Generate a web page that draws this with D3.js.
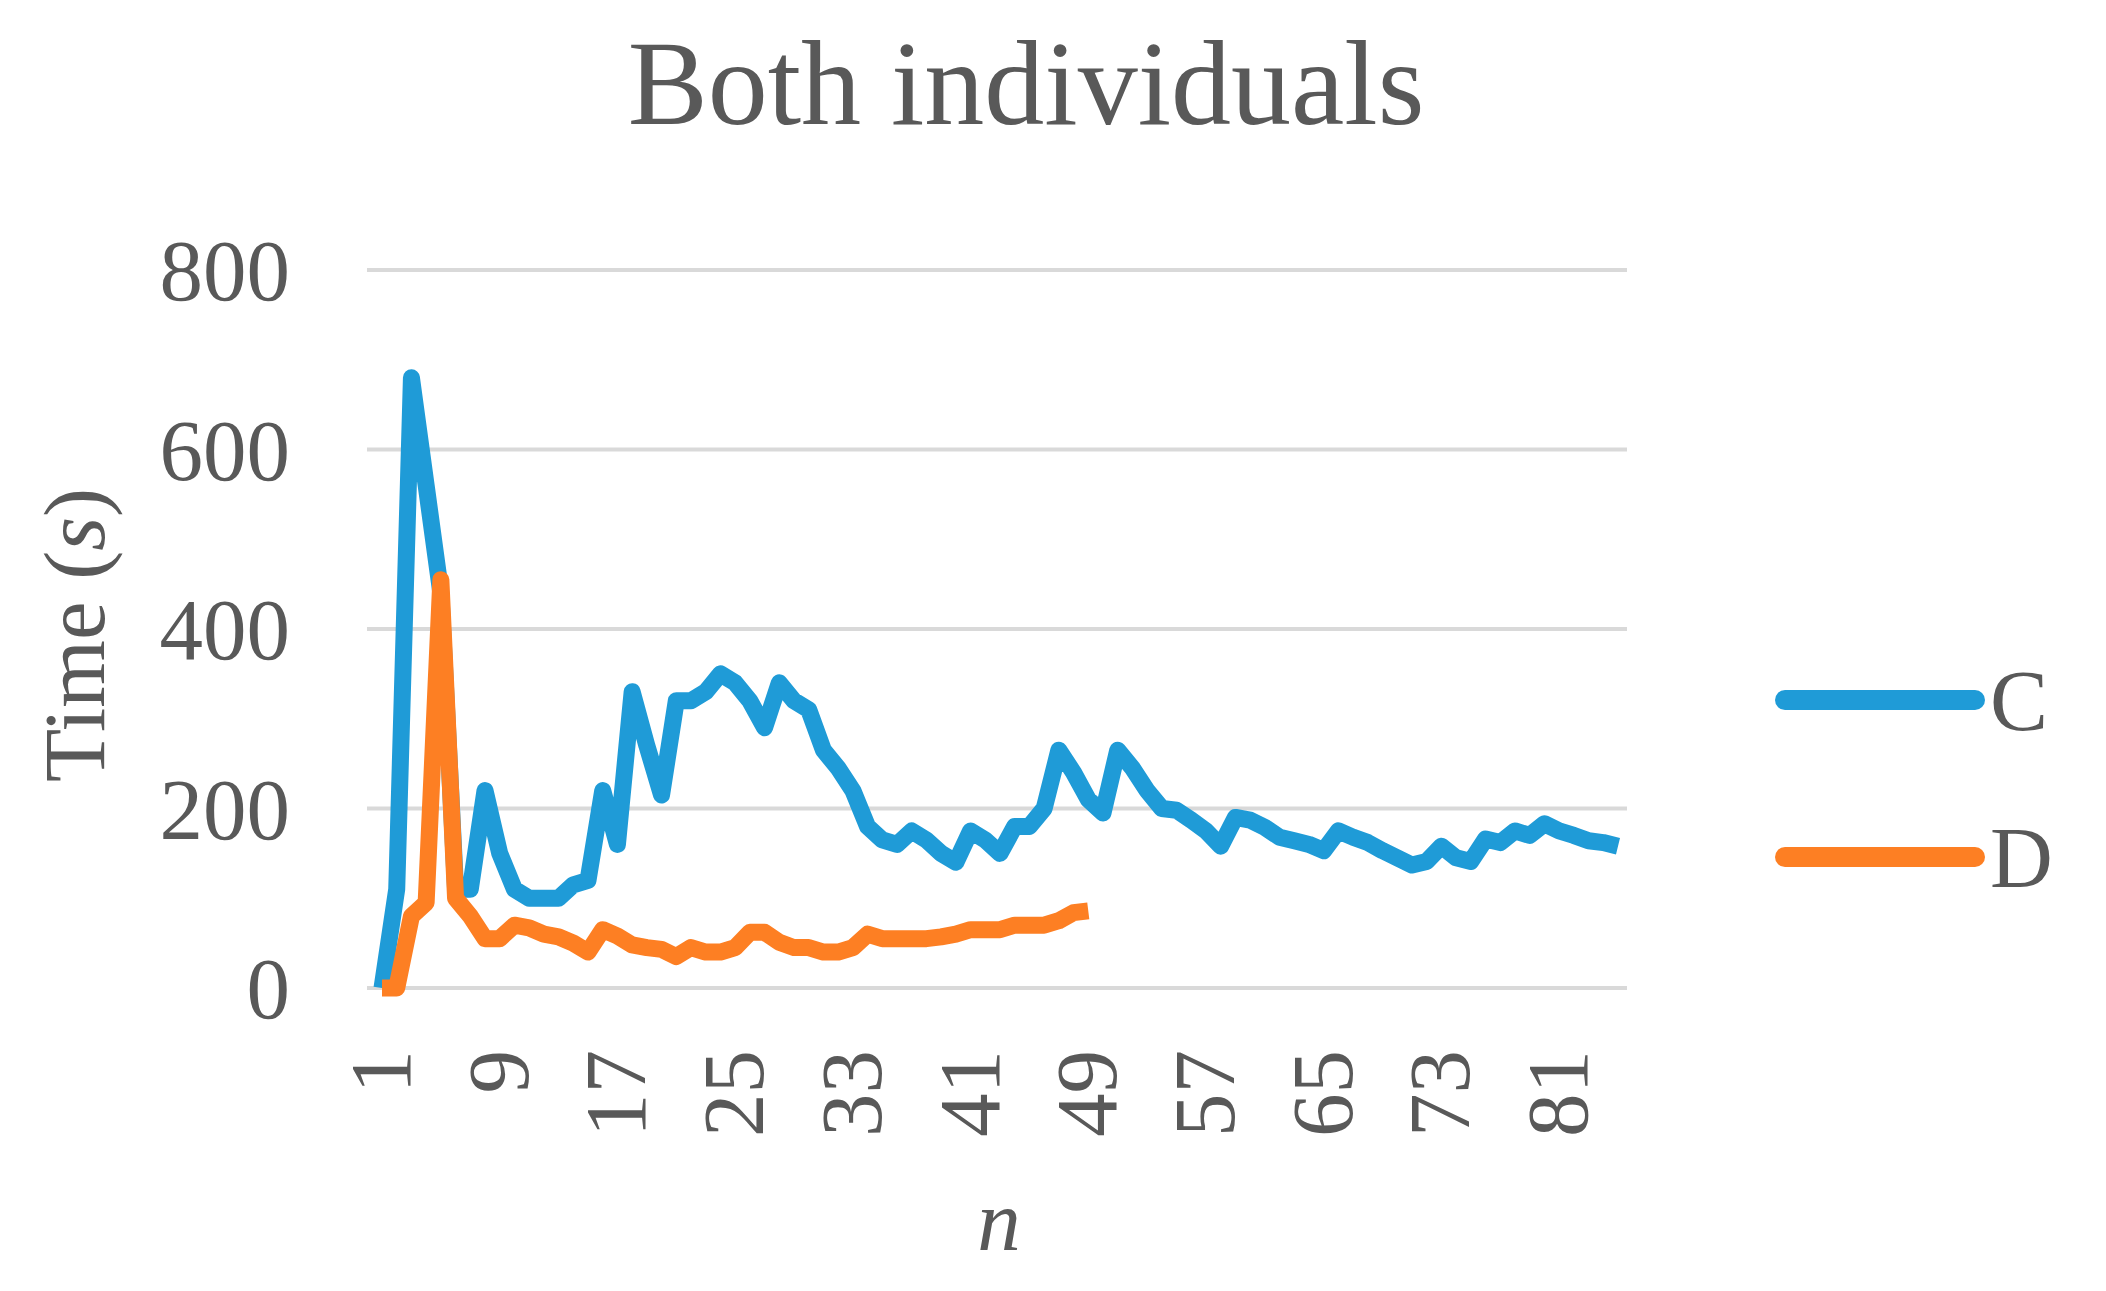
<!DOCTYPE html>
<html><head><meta charset="utf-8">
<script src="https://cdn.jsdelivr.net/npm/d3@7"></script>
<style>body{margin:0;background:#fff}</style>
</head><body><svg></svg>
<script>
var seriesC = [0,110,680,560,440,110,110,220,150,110,100,100,100,115,120,220,160,330,270,215,320,320,330,350,340,320,290,340,320,310,265,245,220,180,165,160,175,165,150,140,175,165,150,180,180,200,265,240,210,195,265,245,220,200,198,187,175,158,190,187,179,168,164,160,153,175,168,162,153,145,137,141,158,145,141,166,162,175,170,183,175,170,164,162,158];
var seriesD = [0,0,80,95,455,100,80,55,55,70,67,60,57,50,40,65,58,48,45,43,35,45,40,40,45,62,62,51,45,45,40,40,45,60,55,55,55,55,57,60,65,65,65,70,70,70,75,84,86];
var yTicks = [0,200,400,600,800];
var names = ["C","D"];
var colors = ["#1f9bd7","#fd7f23"];

var w = 2106, h = 1291;
var svg = d3.select('svg').attr('width', w).attr('height', h);
var font = '"Liberation Serif", "Times New Roman", serif';
var cats = d3.range(1, seriesC.length + 1);

var x = d3.scalePoint().domain(cats).range([382, 1618]);
var y = d3.scaleLinear().domain([0, 800]).range([988, 270]);

svg.append('text').attr('x', 1026).attr('y', 124).attr('text-anchor', 'middle')
    .style('font-family', font).style('font-size', '120px').attr('fill', '#595959')
    .text('Both individuals');

svg.selectAll('line.grid').data(yTicks).enter().append('line')
    .attr('x1', 367).attr('x2', 1627)
    .attr('y1', function(d){ return y(d) }).attr('y2', function(d){ return y(d) })
    .attr('stroke', '#d9d9d9').attr('stroke-width', 4);

svg.selectAll('text.ytick').data(yTicks).enter().append('text')
    .attr('x', 290).attr('y', function(d){ return y(d) + 30 })
    .attr('text-anchor', 'end').style('font-family', font).style('font-size', '87px')
    .attr('fill', '#595959').text(function(d){ return d });

svg.selectAll('text.xtick').data(cats.filter(function(d){ return (d - 1) % 8 == 0 })).enter().append('text')
    .attr('transform', function(d){ return 'translate(' + (x(d) + 28) + ',1050) rotate(-90)' })
    .attr('text-anchor', 'end').style('font-family', font).style('font-size', '87px')
    .attr('fill', '#595959').text(function(d){ return d });

svg.append('text').attr('transform', 'translate(104,635) rotate(-90)').attr('text-anchor', 'middle')
    .style('font-family', font).style('font-size', '87px').attr('fill', '#595959')
    .html('Time (<tspan font-style="italic">s</tspan>)');

svg.append('text').attr('x', 999).attr('y', 1250).attr('text-anchor', 'middle')
    .style('font-family', font).style('font-size', '87px').style('font-style', 'italic')
    .attr('fill', '#595959').text('n');

var line = d3.line().x(function(d, i){ return x(cats[i]) }).y(function(d){ return y(d) });
[seriesC, seriesD].forEach(function(s, k){
    svg.append('path').datum(s).attr('d', line).attr('fill', 'none')
        .attr('stroke', colors[k]).attr('stroke-width', 17).attr('stroke-linejoin', 'round');
});

names.forEach(function(n, k){
    var ly = 700 + k * 157;
    svg.append('line').attr('x1', 1785).attr('x2', 1975).attr('y1', ly).attr('y2', ly)
        .attr('stroke', colors[k]).attr('stroke-width', 20).attr('stroke-linecap', 'round');
    svg.append('text').attr('x', 1990).attr('y', ly + 30).style('font-family', font)
        .style('font-size', '87px').attr('fill', '#595959').text(n);
});
</script></body></html>
